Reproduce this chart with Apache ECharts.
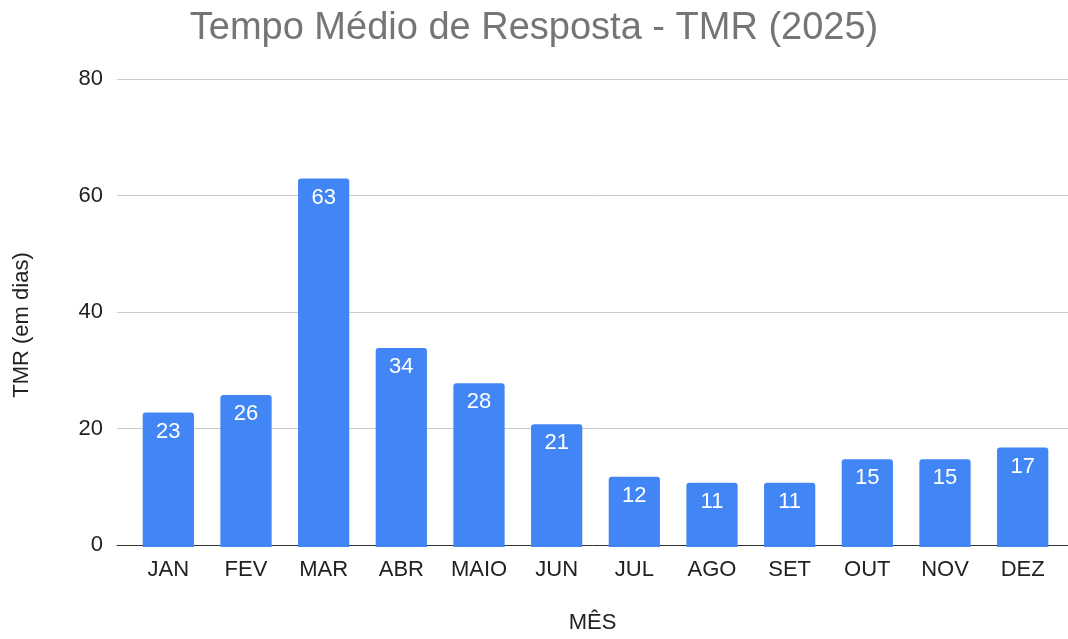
<!DOCTYPE html>
<html>
<head>
<meta charset="utf-8">
<script src="https://cdn.jsdelivr.net/npm/echarts@6/dist/echarts.min.js"></script>
<style>
  html, body { margin: 0; padding: 0; background: #fff; }
  #chart { width: 1068px; height: 639px; }
</style>
</head>
<body>
<div id="chart"></div>
<script>
// meses e TMR (dias)
const months = ['JAN', 'FEV', 'MAR', 'ABR', 'MAIO', 'JUN', 'JUL', 'AGO', 'SET', 'OUT', 'NOV', 'DEZ']
const tmrValues = [23, 26, 63, 34, 28, 21, 12, 11, 11, 15, 15, 17]
const yTicks = [0, 20, 40, 60, 80]

const font = 'Liberation Sans, Arial, sans-serif'
const chart = echarts.init(document.getElementById('chart'))

chart.setOption({
  animation: false,
  title: {
    text: 'Tempo Médio de Resposta - TMR (2025)',
    left: 'center',
    top: 5,
    textStyle: { fontFamily: font, fontSize: 38, fontWeight: 'normal', color: '#757575' }
  },
  grid: [
    // grade de fundo (linhas e eixo Y)
    { left: 117, right: 0, top: 79, height: 468 },
    // barras
    { left: 129.5, right: 6.5, top: 79, height: 468 }
  ],
  xAxis: [
    {
      gridIndex: 0, type: 'value', min: 0, max: 1,
      axisLine: { show: true, lineStyle: { color: '#333', width: 1 } },
      axisTick: { show: false }, axisLabel: { show: false }, splitLine: { show: false },
      name: 'MÊS', nameLocation: 'middle', nameGap: 67,
      nameTextStyle: { fontFamily: font, fontSize: 22, color: '#222' }
    },
    {
      gridIndex: 1, type: 'category', data: months,
      axisLine: { show: false }, axisTick: { show: false },
      axisLabel: { fontFamily: font, fontSize: 22, color: '#222', margin: 12 }
    }
  ],
  yAxis: [
    {
      gridIndex: 0, type: 'value', min: yTicks[0], max: yTicks[yTicks.length - 1], interval: 20,
      axisLine: { show: false }, axisTick: { show: false },
      axisLabel: { fontFamily: font, fontSize: 22, color: '#222', margin: 14 },
      splitLine: { lineStyle: { color: '#cccccc', width: 1 } },
      name: 'TMR (em dias)', nameLocation: 'middle', nameGap: 84, nameRotate: 90,
      nameTextStyle: { fontFamily: font, fontSize: 22, color: '#222', padding: [0, 26, 0, 0] }
    },
    {
      gridIndex: 1, type: 'value', min: 0, max: 80, show: false
    }
  ],
  series: [
    {
      type: 'bar',
      xAxisIndex: 1,
      yAxisIndex: 1,
      data: tmrValues,
      barWidth: '66%',
      itemStyle: { color: '#4285F4', borderRadius: [3, 3, 0, 0] },
      label: {
        show: true,
        position: 'insideTop',
        distance: 8,
        color: '#fff',
        fontFamily: font,
        fontSize: 22
      }
    }
  ]
})
</script>
</body>
</html>
